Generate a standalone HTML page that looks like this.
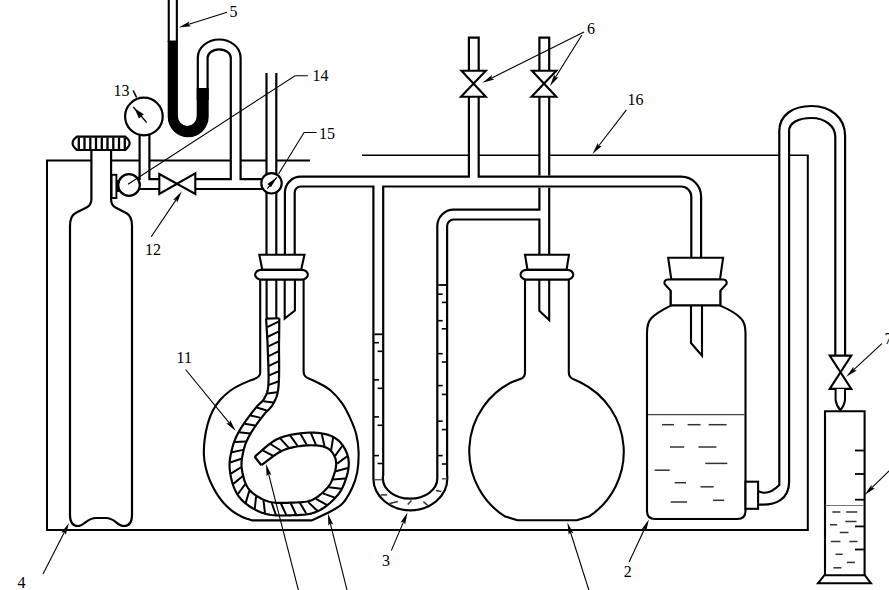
<!DOCTYPE html>
<html><head><meta charset="utf-8"><style>
html,body{margin:0;padding:0;background:#fff;width:889px;height:590px;overflow:hidden}
svg{display:block}
text{font-family:"Liberation Serif",serif;fill:#000;stroke:none}
</style></head><body>
<svg width="889" height="590" viewBox="0 0 889 590">
<g fill="none" stroke="#000" stroke-width="2">
<path d="M310,160.5 H47 V530 H807.8 V155.3" stroke-width="2"/>
<path d="M362,155.3 H808.6" stroke-width="1.6"/>
<path d="M525,280 V372.6 Q525,376.8 521.5,378.6 L511.5,382.2 A77.5,77.5 0 0 0 504.5,516.2 L517.5,520.3 H577 L589.5,516.2 A77.5,77.5 0 0 0 580.2,382.2 L572.3,378.6 Q568.8,376.8 568.8,372.6 V280" fill="#fff" stroke-width="2.1"/>
<path d="M260.2,280 V372.7 Q260.2,377.6 250.8,380.3 C249.12,381.02 244.08,382.90 240.70,384.60 C237.32,386.30 233.90,387.97 230.50,390.50 C227.10,393.03 223.27,396.42 220.30,399.80 C217.33,403.18 214.82,406.70 212.70,410.80 C210.58,414.90 208.95,419.53 207.60,424.40 C206.25,429.27 205.22,434.85 204.60,440.00 C203.98,445.15 203.72,450.72 203.90,455.30 C204.08,459.88 204.77,463.43 205.70,467.50 C206.63,471.57 207.85,475.63 209.50,479.70 C211.15,483.77 213.32,488.10 215.60,491.90 C217.88,495.70 220.28,499.20 223.20,502.50 C226.12,505.80 229.92,509.28 233.10,511.70 C236.28,514.12 239.12,515.55 242.30,517.00 C245.48,518.45 250.55,519.83 252.20,520.40 H311.7 L327.5,513 C329.92,511.52 337.92,508.23 342.00,504.10 C346.08,499.97 349.47,493.48 352.00,488.20 C354.53,482.92 356.10,478.40 357.20,472.40 C358.30,466.40 358.73,458.45 358.60,452.20 C358.47,445.95 357.73,440.42 356.40,434.90 C355.07,429.38 353.00,424.38 350.60,419.10 C348.20,413.82 345.37,408.00 342.00,403.20 C338.63,398.40 334.48,393.75 330.40,390.30 C326.32,386.85 321.33,384.57 317.50,382.50 C313.67,380.43 309.08,378.67 307.40,377.90 Q303.6,376 303.6,371 V280" fill="#fff" stroke-width="2.1"/>
<path d="M670.7,291 V305.6 C664,309 656,313 651.5,318 C647.5,322 647,327 647,333 V511 Q647,519 655,519 H737.3 Q745.5,519 745.5,511 V333 C745.5,327 745,322 740.5,318 C736,313 728,309 720.3,305.6 V291" fill="#fff" stroke-width="2.1"/>
<path d="M91.4,150 V199 C91.4,204 89.5,206 86.5,207.5 L76,212.8 C72,214.8 70,219 70,226 V515 C70,522 73,526 78,526 C84,526 87,518 96,518 H106 C115,518 117,526 124,526 C129,526 132,522 132,515 V226 C132,219 130,215 126.6,213.2 L115.5,207.5 C112.5,206 111.1,204 111.1,199 V150" fill="#fff" stroke-width="2.2"/>
<path d="M77,136.6 H125.3 C127,138 129.6,141 129.6,143.3 C129.6,145.6 127,148.5 125.3,150 H77 C75,148.5 72.6,145.6 72.6,143.3 C72.6,141 75,138 77,136.6 Z" fill="#fff" stroke-width="2.2"/>
<line x1="78.8" y1="137.5" x2="78.8" y2="149.2" stroke="#000" stroke-width="2.3"/>
<line x1="84.5" y1="137.5" x2="84.5" y2="149.2" stroke="#000" stroke-width="2.3"/>
<line x1="90.3" y1="137.5" x2="90.3" y2="149.2" stroke="#000" stroke-width="2.3"/>
<line x1="96.0" y1="137.5" x2="96.0" y2="149.2" stroke="#000" stroke-width="2.3"/>
<line x1="101.8" y1="137.5" x2="101.8" y2="149.2" stroke="#000" stroke-width="2.3"/>
<line x1="107.5" y1="137.5" x2="107.5" y2="149.2" stroke="#000" stroke-width="2.3"/>
<line x1="113.3" y1="137.5" x2="113.3" y2="149.2" stroke="#000" stroke-width="2.3"/>
<line x1="119.0" y1="137.5" x2="119.0" y2="149.2" stroke="#000" stroke-width="2.3"/>
<line x1="124.8" y1="137.5" x2="124.8" y2="149.2" stroke="#000" stroke-width="2.3"/>
<path d="M825,575.2 V411.3 H864.6 V575.2" fill="#fff" stroke-width="2.1"/>
<path d="M824.4,575.2 H864.8 L871,583.3 H818 Z" fill="#fff" stroke-width="2"/>
<line x1="855.0" y1="450.5" x2="864.6" y2="450.5" stroke="#000" stroke-width="1.8"/>
<line x1="855.0" y1="474.0" x2="864.6" y2="474.0" stroke="#000" stroke-width="1.8"/>
<line x1="855.0" y1="499.7" x2="864.6" y2="499.7" stroke="#000" stroke-width="1.8"/>
<line x1="855.0" y1="526.4" x2="864.6" y2="526.4" stroke="#000" stroke-width="1.8"/>
<line x1="855.0" y1="549.5" x2="864.6" y2="549.5" stroke="#000" stroke-width="1.8"/>
<line x1="825.5" y1="505.5" x2="864.0" y2="505.5" stroke="#777" stroke-width="1.2"/>
<line x1="832.4" y1="512.0" x2="840.4" y2="512.0" stroke="#333" stroke-width="1.5"/>
<line x1="846.2" y1="512.0" x2="857.2" y2="512.0" stroke="#333" stroke-width="1.5"/>
<line x1="845.3" y1="521.5" x2="856.5" y2="521.5" stroke="#333" stroke-width="1.5"/>
<line x1="830.0" y1="524.8" x2="837.2" y2="524.8" stroke="#333" stroke-width="1.5"/>
<line x1="839.8" y1="532.5" x2="848.5" y2="532.5" stroke="#333" stroke-width="1.5"/>
<line x1="830.8" y1="541.5" x2="840.4" y2="541.5" stroke="#333" stroke-width="1.5"/>
<line x1="849.4" y1="541.5" x2="857.5" y2="541.5" stroke="#333" stroke-width="1.5"/>
<line x1="835.6" y1="554.3" x2="842.7" y2="554.3" stroke="#333" stroke-width="1.5"/>
<line x1="846.9" y1="562.4" x2="854.9" y2="562.4" stroke="#333" stroke-width="1.5"/>
<line x1="833.4" y1="567.8" x2="841.4" y2="567.8" stroke="#333" stroke-width="1.5"/>
<g stroke="#000" stroke-width="12" fill="none"><path d="M144.5,130 V184.1"/><path d="M129,184.1 H160 M195,184.1 H271.5"/><path d="M235.7,184.1 V57.8 A16.5,13.4 0 0 0 202.7,57.8 V100"/><path d="M271.4,73 V268"/><path d="M289.8,268 V192.6 A11,11 0 0 1 300.8,181.6 H681.2 A15,15 0 0 1 696.2,196.6 V268"/><path d="M473.8,36.5 V181.6"/><path d="M378.3,181.6 V478.5 A32,26 0 0 0 442.2,478.5 V226.1 A11.5,11.5 0 0 1 453.7,214.6 H544.3"/><path d="M544.3,36.5 V175.5"/><path d="M544.3,187.7 V268"/><path d="M752,498.8 H774.2 A10,10 0 0 0 784.2,488.8 V133 A28,22 0 0 1 840.2,133 V356"/></g>
<g stroke="#fff" stroke-width="7.6" fill="none"><path d="M144.5,130 V184.1"/><path d="M129,184.1 H160 M195,184.1 H271.5"/><path d="M235.7,184.1 V57.8 A16.5,13.4 0 0 0 202.7,57.8 V100"/><path d="M271.4,73 V268"/><path d="M289.8,268 V192.6 A11,11 0 0 1 300.8,181.6 H681.2 A15,15 0 0 1 696.2,196.6 V268"/><path d="M473.8,38.7 V181.6"/><path d="M378.3,181.6 V478.5 A32,26 0 0 0 442.2,478.5 V226.1 A11.5,11.5 0 0 1 453.7,214.6 H544.3"/><path d="M544.3,38.7 V175.5"/><path d="M544.3,187.7 V268"/><path d="M752,498.8 H774.2 A10,10 0 0 0 784.2,488.8 V133 A28,22 0 0 1 840.2,133 V356"/></g>
<path d="M777,150 V131 C777,112 792,103.5 811,103.5 C830,103.5 847,113 847,136 V150 Z" fill="#fff" stroke="none"/>
<path d="M779.3,150 V131 C779.3,115 793,106 811.5,106 C830,106 845.1,117 845.1,136 V150" stroke-width="2.2"/>
<path d="M789.1,150 V131 C789.1,123 798,118 811.5,118 C825,118 835.3,126 835.3,137 V150" stroke-width="2.2"/>
<path d="M758.8,468 H791.5 V508 H758.8 Z" fill="#fff" stroke="none"/>
<path d="M758.3,491.3 C764,494 771,493.5 779.3,485 V468" stroke-width="2.2"/>
<path d="M758.3,504.5 C776,506 789.1,499 789.1,482 V468" stroke-width="2.2"/>
<path d="M371.5,476 H449.5 V514 H371.5 Z" fill="#fff" stroke="none"/>
<path d="M373.4,476 V478.5 A36.95,31.8 0 0 0 447.3,478.5 V476" stroke-width="2.2"/>
<path d="M382.9,476 V478.5 A27.2,20.2 0 0 0 437.3,478.5 V476" stroke-width="2.2"/>
<path d="M172.8,-2 V42" stroke="#000" stroke-width="10.2" fill="none"/>
<path d="M172.8,-2 V40.7" stroke="#fff" stroke-width="6" fill="none"/>
<path d="M167.7,40.7 H177.9 V116 A9.4,10 0 0 0 196.7,116 V88 H208.7 V116.6 A20.5,20.7 0 0 1 167.7,116.6 Z" fill="#000" stroke="none"/>
<path d="M284.7,268 V318.6 L294.9,310.5 V268" stroke-width="2.1"/>
<path d="M539.3,268 V310.8 L549.2,320 V268" stroke-width="2.1"/>
<path d="M691,268 V343 L702,355.7 V268" stroke-width="2.1"/>
<path d="M266.6,268 V319 M276.3,268 V319" stroke-width="2.1"/>
<path d="M279.30,318.24 L279.29,319.48 L279.27,320.96 L279.26,322.69 L279.25,324.63 L279.23,326.75 L279.21,329.04 L279.19,331.47 L279.16,334.02 L279.13,336.66 L279.09,339.38 L279.04,342.14 L278.99,344.92 L278.99,347.84 L279.01,351.05 L279.04,354.49 L279.07,358.10 L279.10,361.82 L279.11,365.57 L279.11,369.30 L279.08,372.93 L279.02,376.42 L278.93,379.69 L278.78,382.70 L278.59,385.39 L278.38,387.76 L278.12,389.87 L277.81,391.79 L277.45,393.53 L277.04,395.13 L276.57,396.60 L276.07,397.94 L275.54,399.18 L275.01,400.31 L274.47,401.37 L273.95,402.38 L273.38,403.48 L272.69,404.73 L271.89,405.96 L271.05,407.07 L270.20,408.07 L269.36,408.97 L268.55,409.78 L267.77,410.53 L267.03,411.23 L266.33,411.91 L265.67,412.59 L265.04,413.28 L264.38,414.07 L263.64,415.01 L262.83,416.04 L262.00,417.10 L261.15,418.20 L260.29,419.32 L259.42,420.45 L258.56,421.60 L257.72,422.75 L256.89,423.89 L256.08,425.02 L255.31,426.14 L254.57,427.24 L253.85,428.34 L253.13,429.46 L252.42,430.57 L251.73,431.68 L251.06,432.78 L250.41,433.88 L249.78,434.96 L249.18,436.03 L248.60,437.10 L248.06,438.14 L247.55,439.17 L247.07,440.20 L246.62,441.22 L246.19,442.22 L245.80,443.21 L245.43,444.17 L245.08,445.13 L244.76,446.09 L244.45,447.06 L244.17,448.04 L243.90,449.04 L243.64,450.07 L243.39,451.13 L243.15,452.26 L242.91,453.47 L242.66,454.69 L242.42,455.90 L242.20,457.11 L242.00,458.30 L241.83,459.50 L241.68,460.68 L241.58,461.86 L241.51,463.04 L241.49,464.22 L241.51,465.39 L241.59,466.59 L241.71,467.90 L241.89,469.31 L242.11,470.78 L242.37,472.30 L242.67,473.84 L243.01,475.38 L243.39,476.91 L243.80,478.39 L244.23,479.82 L244.68,481.17 L245.15,482.41 L245.63,483.55 L246.14,484.63 L246.67,485.66 L247.19,486.62 L247.73,487.51 L248.28,488.34 L248.86,489.13 L249.47,489.89 L250.12,490.63 L250.83,491.36 L251.61,492.10 L252.45,492.84 L253.39,493.60 L254.43,494.38 L255.56,495.18 L256.76,495.98 L258.01,496.78 L259.31,497.55 L260.66,498.30 L262.04,499.01 L263.44,499.68 L264.86,500.28 L266.28,500.83 L267.69,501.30 L269.08,501.70 L270.49,502.03 L271.97,502.30 L273.53,502.51 L275.15,502.68 L276.84,502.80 L278.57,502.87 L280.36,502.91 L282.19,502.91 L284.04,502.89 L285.93,502.84 L287.84,502.78 L289.78,502.70 L291.77,502.64 L293.79,502.58 L295.81,502.52 L297.81,502.44 L299.79,502.34 L301.72,502.20 L303.59,502.02 L305.39,501.78 L307.11,501.48 L308.73,501.11 L310.22,500.68 L311.61,500.17 L312.99,499.54 L314.43,498.79 L315.89,497.91 L317.36,496.93 L318.82,495.86 L320.26,494.72 L321.66,493.53 L323.02,492.30 L324.31,491.06 L325.53,489.81 L326.67,488.59 L327.68,487.44 L328.54,486.38 L329.29,485.32 L329.99,484.22 L330.64,483.09 L331.24,481.93 L331.79,480.73 L332.30,479.51 L332.79,478.26 L333.24,477.00 L333.67,475.72 L334.08,474.43 L334.47,473.17 L334.83,471.97 L335.14,470.82 L335.41,469.70 L335.64,468.60 L335.84,467.53 L335.99,466.49 L336.09,465.49 L336.16,464.52 L336.18,463.59 L336.16,462.69 L336.09,461.83 L335.98,461.01 L335.82,460.18 L335.61,459.33 L335.34,458.44 L335.01,457.53 L334.64,456.62 L334.23,455.72 L333.78,454.84 L333.30,453.99 L332.80,453.19 L332.29,452.44 L331.77,451.77 L331.28,451.17 L330.78,450.64 L330.27,450.15 L329.74,449.69 L329.19,449.27 L328.60,448.87 L327.98,448.49 L327.31,448.13 L326.60,447.78 L325.84,447.45 L325.02,447.13 L324.15,446.83 L323.25,446.55 L322.33,446.30 L321.36,446.08 L320.32,445.89 L319.22,445.72 L318.07,445.58 L316.86,445.47 L315.62,445.38 L314.34,445.31 L313.03,445.28 L311.69,445.26 L310.34,445.27 L308.99,445.30 L307.62,445.35 L306.19,445.44 L304.71,445.55 L303.19,445.69 L301.64,445.86 L300.09,446.06 L298.55,446.27 L297.03,446.51 L295.55,446.77 L294.12,447.04 L292.76,447.33 L291.46,447.63 L290.21,447.94 L289.04,448.24 L287.97,448.53 L286.97,448.82 L286.04,449.12 L285.16,449.43 L284.28,449.78 L283.39,450.16 L282.47,450.60 L281.49,451.11 L280.41,451.66 L279.27,452.27 L278.01,453.01 L276.57,453.93 L274.96,455.02 L273.26,456.22 L271.50,457.50 L269.74,458.81 L268.01,460.11 L266.37,461.36 L264.84,462.53 L263.46,463.59 L262.28,464.49 L261.37,465.22 L254.63,456.78 L255.49,456.10 L256.54,455.17 L257.82,454.04 L259.26,452.75 L260.84,451.35 L262.51,449.88 L264.24,448.38 L266.00,446.89 L267.76,445.44 L269.48,444.07 L271.15,442.82 L272.73,441.73 L274.17,440.81 L275.53,440.01 L276.87,439.32 L278.18,438.69 L279.47,438.13 L280.74,437.63 L282.01,437.18 L283.28,436.77 L284.55,436.40 L285.83,436.05 L287.14,435.72 L288.54,435.37 L290.05,435.02 L291.65,434.69 L293.30,434.37 L294.98,434.08 L296.70,433.81 L298.43,433.57 L300.17,433.35 L301.91,433.16 L303.63,433.00 L305.33,432.87 L307.00,432.77 L308.61,432.70 L310.17,432.67 L311.73,432.66 L313.28,432.68 L314.83,432.72 L316.38,432.80 L317.91,432.91 L319.43,433.06 L320.94,433.24 L322.43,433.47 L323.90,433.74 L325.35,434.07 L326.75,434.45 L328.08,434.86 L329.36,435.30 L330.62,435.79 L331.86,436.33 L333.08,436.92 L334.27,437.57 L335.44,438.29 L336.58,439.06 L337.68,439.91 L338.74,440.82 L339.76,441.79 L340.72,442.83 L341.64,443.93 L342.52,445.09 L343.35,446.30 L344.13,447.56 L344.87,448.87 L345.56,450.22 L346.20,451.60 L346.78,453.02 L347.30,454.48 L347.75,455.96 L348.13,457.47 L348.42,458.99 L348.62,460.52 L348.74,462.04 L348.78,463.56 L348.75,465.07 L348.65,466.57 L348.49,468.07 L348.27,469.55 L348.01,471.03 L347.70,472.50 L347.34,473.96 L346.95,475.41 L346.53,476.83 L346.10,478.22 L345.64,479.65 L345.14,481.13 L344.59,482.66 L343.99,484.23 L343.31,485.83 L342.56,487.45 L341.72,489.09 L340.78,490.74 L339.73,492.38 L338.57,494.00 L337.32,495.56 L336.01,497.04 L334.64,498.52 L333.17,500.02 L331.61,501.51 L329.97,503.00 L328.24,504.47 L326.44,505.89 L324.57,507.26 L322.63,508.55 L320.62,509.76 L318.54,510.86 L316.39,511.83 L314.15,512.65 L311.88,513.31 L309.59,513.83 L307.31,514.23 L305.04,514.54 L302.78,514.76 L300.56,514.92 L298.37,515.03 L296.24,515.11 L294.16,515.17 L292.16,515.23 L290.22,515.30 L288.28,515.37 L286.29,515.43 L284.28,515.48 L282.26,515.51 L280.22,515.51 L278.18,515.47 L276.12,515.38 L274.07,515.23 L272.02,515.02 L269.97,514.74 L267.94,514.37 L265.92,513.90 L263.95,513.33 L262.01,512.68 L260.11,511.96 L258.26,511.16 L256.46,510.31 L254.71,509.41 L253.02,508.47 L251.40,507.50 L249.84,506.50 L248.35,505.48 L246.94,504.44 L245.61,503.40 L244.33,502.34 L243.13,501.26 L241.98,500.14 L240.91,498.99 L239.89,497.80 L238.94,496.58 L238.05,495.32 L237.22,494.03 L236.44,492.70 L235.71,491.33 L235.03,489.93 L234.37,488.45 L233.72,486.86 L233.11,485.18 L232.56,483.45 L232.05,481.68 L231.58,479.88 L231.16,478.06 L230.79,476.23 L230.45,474.41 L230.17,472.60 L229.93,470.83 L229.75,469.10 L229.61,467.41 L229.55,465.72 L229.56,464.04 L229.63,462.41 L229.76,460.82 L229.94,459.28 L230.16,457.78 L230.41,456.33 L230.68,454.92 L230.97,453.56 L231.26,452.25 L231.55,450.98 L231.85,449.74 L232.15,448.47 L232.48,447.22 L232.82,445.99 L233.18,444.78 L233.56,443.58 L233.97,442.41 L234.39,441.24 L234.85,440.08 L235.33,438.92 L235.83,437.76 L236.36,436.59 L236.93,435.40 L237.53,434.19 L238.18,432.97 L238.84,431.76 L239.54,430.55 L240.25,429.35 L240.98,428.16 L241.73,426.98 L242.49,425.80 L243.26,424.63 L244.04,423.47 L244.83,422.32 L245.63,421.16 L246.45,419.98 L247.31,418.78 L248.20,417.57 L249.10,416.36 L250.01,415.15 L250.93,413.96 L251.84,412.78 L252.75,411.63 L253.65,410.51 L254.52,409.42 L255.37,408.38 L256.22,407.33 L257.12,406.28 L258.05,405.29 L258.93,404.40 L259.77,403.60 L260.54,402.89 L261.24,402.23 L261.87,401.63 L262.42,401.05 L262.91,400.49 L263.36,399.92 L263.77,399.31 L264.22,398.52 L264.73,397.55 L265.25,396.58 L265.71,395.70 L266.12,394.87 L266.48,394.05 L266.81,393.19 L267.13,392.24 L267.43,391.15 L267.71,389.88 L267.97,388.38 L268.20,386.63 L268.41,384.61 L268.53,382.22 L268.58,379.44 L268.58,376.33 L268.54,372.96 L268.46,369.41 L268.35,365.75 L268.22,362.04 L268.09,358.35 L267.95,354.75 L267.82,351.29 L267.70,348.04 L267.61,345.08 L267.49,342.32 L267.35,339.59 L267.20,336.91 L267.05,334.29 L266.91,331.77 L266.76,329.36 L266.62,327.09 L266.49,324.97 L266.37,323.04 L266.27,321.31 L266.18,319.81 L266.10,318.56 Z" fill="#fff" stroke="none"/>
<path d="M279.30,318.24 L279.29,319.48 L279.27,320.96 L279.26,322.69 L279.25,324.63 L279.23,326.75 L279.21,329.04 L279.19,331.47 L279.16,334.02 L279.13,336.66 L279.09,339.38 L279.04,342.14 L278.99,344.92 L278.99,347.84 L279.01,351.05 L279.04,354.49 L279.07,358.10 L279.10,361.82 L279.11,365.57 L279.11,369.30 L279.08,372.93 L279.02,376.42 L278.93,379.69 L278.78,382.70 L278.59,385.39 L278.38,387.76 L278.12,389.87 L277.81,391.79 L277.45,393.53 L277.04,395.13 L276.57,396.60 L276.07,397.94 L275.54,399.18 L275.01,400.31 L274.47,401.37 L273.95,402.38 L273.38,403.48 L272.69,404.73 L271.89,405.96 L271.05,407.07 L270.20,408.07 L269.36,408.97 L268.55,409.78 L267.77,410.53 L267.03,411.23 L266.33,411.91 L265.67,412.59 L265.04,413.28 L264.38,414.07 L263.64,415.01 L262.83,416.04 L262.00,417.10 L261.15,418.20 L260.29,419.32 L259.42,420.45 L258.56,421.60 L257.72,422.75 L256.89,423.89 L256.08,425.02 L255.31,426.14 L254.57,427.24 L253.85,428.34 L253.13,429.46 L252.42,430.57 L251.73,431.68 L251.06,432.78 L250.41,433.88 L249.78,434.96 L249.18,436.03 L248.60,437.10 L248.06,438.14 L247.55,439.17 L247.07,440.20 L246.62,441.22 L246.19,442.22 L245.80,443.21 L245.43,444.17 L245.08,445.13 L244.76,446.09 L244.45,447.06 L244.17,448.04 L243.90,449.04 L243.64,450.07 L243.39,451.13 L243.15,452.26 L242.91,453.47 L242.66,454.69 L242.42,455.90 L242.20,457.11 L242.00,458.30 L241.83,459.50 L241.68,460.68 L241.58,461.86 L241.51,463.04 L241.49,464.22 L241.51,465.39 L241.59,466.59 L241.71,467.90 L241.89,469.31 L242.11,470.78 L242.37,472.30 L242.67,473.84 L243.01,475.38 L243.39,476.91 L243.80,478.39 L244.23,479.82 L244.68,481.17 L245.15,482.41 L245.63,483.55 L246.14,484.63 L246.67,485.66 L247.19,486.62 L247.73,487.51 L248.28,488.34 L248.86,489.13 L249.47,489.89 L250.12,490.63 L250.83,491.36 L251.61,492.10 L252.45,492.84 L253.39,493.60 L254.43,494.38 L255.56,495.18 L256.76,495.98 L258.01,496.78 L259.31,497.55 L260.66,498.30 L262.04,499.01 L263.44,499.68 L264.86,500.28 L266.28,500.83 L267.69,501.30 L269.08,501.70 L270.49,502.03 L271.97,502.30 L273.53,502.51 L275.15,502.68 L276.84,502.80 L278.57,502.87 L280.36,502.91 L282.19,502.91 L284.04,502.89 L285.93,502.84 L287.84,502.78 L289.78,502.70 L291.77,502.64 L293.79,502.58 L295.81,502.52 L297.81,502.44 L299.79,502.34 L301.72,502.20 L303.59,502.02 L305.39,501.78 L307.11,501.48 L308.73,501.11 L310.22,500.68 L311.61,500.17 L312.99,499.54 L314.43,498.79 L315.89,497.91 L317.36,496.93 L318.82,495.86 L320.26,494.72 L321.66,493.53 L323.02,492.30 L324.31,491.06 L325.53,489.81 L326.67,488.59 L327.68,487.44 L328.54,486.38 L329.29,485.32 L329.99,484.22 L330.64,483.09 L331.24,481.93 L331.79,480.73 L332.30,479.51 L332.79,478.26 L333.24,477.00 L333.67,475.72 L334.08,474.43 L334.47,473.17 L334.83,471.97 L335.14,470.82 L335.41,469.70 L335.64,468.60 L335.84,467.53 L335.99,466.49 L336.09,465.49 L336.16,464.52 L336.18,463.59 L336.16,462.69 L336.09,461.83 L335.98,461.01 L335.82,460.18 L335.61,459.33 L335.34,458.44 L335.01,457.53 L334.64,456.62 L334.23,455.72 L333.78,454.84 L333.30,453.99 L332.80,453.19 L332.29,452.44 L331.77,451.77 L331.28,451.17 L330.78,450.64 L330.27,450.15 L329.74,449.69 L329.19,449.27 L328.60,448.87 L327.98,448.49 L327.31,448.13 L326.60,447.78 L325.84,447.45 L325.02,447.13 L324.15,446.83 L323.25,446.55 L322.33,446.30 L321.36,446.08 L320.32,445.89 L319.22,445.72 L318.07,445.58 L316.86,445.47 L315.62,445.38 L314.34,445.31 L313.03,445.28 L311.69,445.26 L310.34,445.27 L308.99,445.30 L307.62,445.35 L306.19,445.44 L304.71,445.55 L303.19,445.69 L301.64,445.86 L300.09,446.06 L298.55,446.27 L297.03,446.51 L295.55,446.77 L294.12,447.04 L292.76,447.33 L291.46,447.63 L290.21,447.94 L289.04,448.24 L287.97,448.53 L286.97,448.82 L286.04,449.12 L285.16,449.43 L284.28,449.78 L283.39,450.16 L282.47,450.60 L281.49,451.11 L280.41,451.66 L279.27,452.27 L278.01,453.01 L276.57,453.93 L274.96,455.02 L273.26,456.22 L271.50,457.50 L269.74,458.81 L268.01,460.11 L266.37,461.36 L264.84,462.53 L263.46,463.59 L262.28,464.49 L261.37,465.22" stroke-width="2.2" stroke-linejoin="round"/>
<path d="M266.10,318.56 L266.18,319.81 L266.27,321.31 L266.37,323.04 L266.49,324.97 L266.62,327.09 L266.76,329.36 L266.91,331.77 L267.05,334.29 L267.20,336.91 L267.35,339.59 L267.49,342.32 L267.61,345.08 L267.70,348.04 L267.82,351.29 L267.95,354.75 L268.09,358.35 L268.22,362.04 L268.35,365.75 L268.46,369.41 L268.54,372.96 L268.58,376.33 L268.58,379.44 L268.53,382.22 L268.41,384.61 L268.20,386.63 L267.97,388.38 L267.71,389.88 L267.43,391.15 L267.13,392.24 L266.81,393.19 L266.48,394.05 L266.12,394.87 L265.71,395.70 L265.25,396.58 L264.73,397.55 L264.22,398.52 L263.77,399.31 L263.36,399.92 L262.91,400.49 L262.42,401.05 L261.87,401.63 L261.24,402.23 L260.54,402.89 L259.77,403.60 L258.93,404.40 L258.05,405.29 L257.12,406.28 L256.22,407.33 L255.37,408.38 L254.52,409.42 L253.65,410.51 L252.75,411.63 L251.84,412.78 L250.93,413.96 L250.01,415.15 L249.10,416.36 L248.20,417.57 L247.31,418.78 L246.45,419.98 L245.63,421.16 L244.83,422.32 L244.04,423.47 L243.26,424.63 L242.49,425.80 L241.73,426.98 L240.98,428.16 L240.25,429.35 L239.54,430.55 L238.84,431.76 L238.18,432.97 L237.53,434.19 L236.93,435.40 L236.36,436.59 L235.83,437.76 L235.33,438.92 L234.85,440.08 L234.39,441.24 L233.97,442.41 L233.56,443.58 L233.18,444.78 L232.82,445.99 L232.48,447.22 L232.15,448.47 L231.85,449.74 L231.55,450.98 L231.26,452.25 L230.97,453.56 L230.68,454.92 L230.41,456.33 L230.16,457.78 L229.94,459.28 L229.76,460.82 L229.63,462.41 L229.56,464.04 L229.55,465.72 L229.61,467.41 L229.75,469.10 L229.93,470.83 L230.17,472.60 L230.45,474.41 L230.79,476.23 L231.16,478.06 L231.58,479.88 L232.05,481.68 L232.56,483.45 L233.11,485.18 L233.72,486.86 L234.37,488.45 L235.03,489.93 L235.71,491.33 L236.44,492.70 L237.22,494.03 L238.05,495.32 L238.94,496.58 L239.89,497.80 L240.91,498.99 L241.98,500.14 L243.13,501.26 L244.33,502.34 L245.61,503.40 L246.94,504.44 L248.35,505.48 L249.84,506.50 L251.40,507.50 L253.02,508.47 L254.71,509.41 L256.46,510.31 L258.26,511.16 L260.11,511.96 L262.01,512.68 L263.95,513.33 L265.92,513.90 L267.94,514.37 L269.97,514.74 L272.02,515.02 L274.07,515.23 L276.12,515.38 L278.18,515.47 L280.22,515.51 L282.26,515.51 L284.28,515.48 L286.29,515.43 L288.28,515.37 L290.22,515.30 L292.16,515.23 L294.16,515.17 L296.24,515.11 L298.37,515.03 L300.56,514.92 L302.78,514.76 L305.04,514.54 L307.31,514.23 L309.59,513.83 L311.88,513.31 L314.15,512.65 L316.39,511.83 L318.54,510.86 L320.62,509.76 L322.63,508.55 L324.57,507.26 L326.44,505.89 L328.24,504.47 L329.97,503.00 L331.61,501.51 L333.17,500.02 L334.64,498.52 L336.01,497.04 L337.32,495.56 L338.57,494.00 L339.73,492.38 L340.78,490.74 L341.72,489.09 L342.56,487.45 L343.31,485.83 L343.99,484.23 L344.59,482.66 L345.14,481.13 L345.64,479.65 L346.10,478.22 L346.53,476.83 L346.95,475.41 L347.34,473.96 L347.70,472.50 L348.01,471.03 L348.27,469.55 L348.49,468.07 L348.65,466.57 L348.75,465.07 L348.78,463.56 L348.74,462.04 L348.62,460.52 L348.42,458.99 L348.13,457.47 L347.75,455.96 L347.30,454.48 L346.78,453.02 L346.20,451.60 L345.56,450.22 L344.87,448.87 L344.13,447.56 L343.35,446.30 L342.52,445.09 L341.64,443.93 L340.72,442.83 L339.76,441.79 L338.74,440.82 L337.68,439.91 L336.58,439.06 L335.44,438.29 L334.27,437.57 L333.08,436.92 L331.86,436.33 L330.62,435.79 L329.36,435.30 L328.08,434.86 L326.75,434.45 L325.35,434.07 L323.90,433.74 L322.43,433.47 L320.94,433.24 L319.43,433.06 L317.91,432.91 L316.38,432.80 L314.83,432.72 L313.28,432.68 L311.73,432.66 L310.17,432.67 L308.61,432.70 L307.00,432.77 L305.33,432.87 L303.63,433.00 L301.91,433.16 L300.17,433.35 L298.43,433.57 L296.70,433.81 L294.98,434.08 L293.30,434.37 L291.65,434.69 L290.05,435.02 L288.54,435.37 L287.14,435.72 L285.83,436.05 L284.55,436.40 L283.28,436.77 L282.01,437.18 L280.74,437.63 L279.47,438.13 L278.18,438.69 L276.87,439.32 L275.53,440.01 L274.17,440.81 L272.73,441.73 L271.15,442.82 L269.48,444.07 L267.76,445.44 L266.00,446.89 L264.24,448.38 L262.51,449.88 L260.84,451.35 L259.26,452.75 L257.82,454.04 L256.54,455.17 L255.49,456.10 L254.63,456.78" stroke-width="2.2" stroke-linejoin="round"/>
<path d="M279.30,318.24 L266.10,318.56" stroke-width="2.2"/>
<path d="M261.37,465.22 L254.63,456.78" stroke-width="2.2"/>
<path d="M267.14,327.13L278.58,321.66M267.71,336.73L278.51,331.66M268.21,346.35L278.37,341.64M268.57,356.11L278.38,351.47M268.92,365.81L278.47,361.37M269.13,375.43L278.49,371.35M268.95,384.84L278.27,381.53M267.35,393.55L277.24,392.21M263.33,401.17L273.36,402.45M256.88,407.50L266.66,410.57M250.55,415.45L260.65,417.85M244.66,423.69L255.04,425.47M239.23,432.33L249.99,433.39M234.78,441.93L245.86,441.39M231.93,452.18L243.06,449.88M230.23,462.56L241.25,458.77M230.96,473.65L240.96,467.23M233.28,483.87L242.56,476.19M237.90,494.02L245.15,484.22M245.76,502.74L249.27,490.89M254.78,508.78L256.08,496.36M264.99,512.99L263.52,500.60M275.84,514.77L271.77,502.98M286.24,514.84L280.95,503.54M296.09,514.52L290.69,503.27M306.35,513.76L300.00,503.02M317.26,510.77L308.25,502.14M326.82,504.81L315.88,498.81M334.68,497.58L322.93,493.37M341.27,488.74L328.88,487.20M345.40,478.57L332.96,479.62M347.88,468.08L335.82,471.27M347.21,456.22L337.17,463.64M342.34,445.72L335.13,455.91M333.12,437.51L331.19,449.84M321.78,433.93L324.45,446.12M310.97,433.23L315.81,444.73M300.50,433.91L306.70,444.74M290.29,435.58L297.50,445.76M280.16,438.44L288.62,447.62M270.40,444.02L280.77,450.51M262.61,450.48L272.79,455.67" stroke="#000" stroke-width="2"/>
<path d="M259.3,254.7 H304.5 L301.1,269.9 H262.3 Z" fill="#fff" stroke-width="2.1"/>
<path d="M261.1,269.9 H301.9 C305.4,269.9 307.9,272.2 307.9,274.8 C307.9,277.2 304.9,279.6 301.9,279.6 H261.1 C258.1,279.6 255.1,277.2 255.1,274.8 C255.1,272.2 257.6,269.9 261.1,269.9 Z" fill="#fff" stroke-width="2.1"/>
<path d="M525,254.7 H569 L566.5,269.9 H527.5 Z" fill="#fff" stroke-width="2.1"/>
<path d="M526.5,269.9 H567.3 C570.8,269.9 573.3,272.2 573.3,274.8 C573.3,277.2 570.3,279.6 567.3,279.6 H526.5 C523.5,279.6 520.5,277.2 520.5,274.8 C520.5,272.2 523.0,269.9 526.5,269.9 Z" fill="#fff" stroke-width="2.1"/>
<path d="M668.2,257.8 H723.1 L720,279.5 H671.3 Z" fill="#fff" stroke-width="2.1"/>
<path d="M668,279.5 H723 Q727.6,279.8 726.5,284 L720.3,290.8 V305.4 H670.8 V290.8 L664.6,284 Q663.6,279.8 668,279.5 Z" fill="#fff" stroke-width="2.1"/>
<line x1="648.0" y1="414.6" x2="744.5" y2="414.6" stroke="#444" stroke-width="1.2"/>
<line x1="662.0" y1="424.7" x2="674.0" y2="424.7" stroke="#333" stroke-width="1.5"/>
<line x1="687.6" y1="424.7" x2="700.5" y2="424.7" stroke="#333" stroke-width="1.5"/>
<line x1="708.6" y1="424.7" x2="726.6" y2="424.7" stroke="#333" stroke-width="1.5"/>
<line x1="670.0" y1="447.0" x2="684.2" y2="447.0" stroke="#333" stroke-width="1.5"/>
<line x1="698.5" y1="447.0" x2="716.4" y2="447.0" stroke="#333" stroke-width="1.5"/>
<line x1="705.3" y1="463.4" x2="727.3" y2="463.4" stroke="#333" stroke-width="1.5"/>
<line x1="654.7" y1="470.2" x2="669.7" y2="470.2" stroke="#333" stroke-width="1.5"/>
<line x1="674.7" y1="482.7" x2="686.0" y2="482.7" stroke="#333" stroke-width="1.5"/>
<line x1="700.5" y1="486.8" x2="713.7" y2="486.8" stroke="#333" stroke-width="1.5"/>
<line x1="670.7" y1="502.0" x2="687.0" y2="502.0" stroke="#333" stroke-width="1.5"/>
<line x1="713.0" y1="500.3" x2="724.2" y2="500.3" stroke="#333" stroke-width="1.5"/>
<rect x="745.5" y="481.7" width="12.6" height="27.1" fill="#fff" stroke-width="2.1"/>
<line x1="374.5" y1="334.3" x2="382.0" y2="334.3" stroke="#000" stroke-width="1.8"/>
<line x1="438.3" y1="285.0" x2="446.5" y2="285.0" stroke="#000" stroke-width="1.8"/>
<line x1="374.0" y1="342.7" x2="379.0" y2="342.7" stroke="#000" stroke-width="1.6"/>
<line x1="374.0" y1="379.9" x2="379.0" y2="379.9" stroke="#000" stroke-width="1.6"/>
<line x1="374.0" y1="416.9" x2="379.0" y2="416.9" stroke="#000" stroke-width="1.6"/>
<line x1="374.0" y1="455.6" x2="379.0" y2="455.6" stroke="#000" stroke-width="1.6"/>
<line x1="377.6" y1="351.3" x2="382.6" y2="351.3" stroke="#000" stroke-width="1.6"/>
<line x1="377.6" y1="388.3" x2="382.6" y2="388.3" stroke="#000" stroke-width="1.6"/>
<line x1="377.6" y1="425.3" x2="382.6" y2="425.3" stroke="#000" stroke-width="1.6"/>
<line x1="377.6" y1="463.5" x2="382.6" y2="463.5" stroke="#000" stroke-width="1.6"/>
<line x1="374.0" y1="479.7" x2="382.0" y2="479.7" stroke="#555" stroke-width="1.5"/>
<line x1="437.7" y1="294.2" x2="442.7" y2="294.2" stroke="#000" stroke-width="1.6"/>
<line x1="437.7" y1="320.7" x2="442.7" y2="320.7" stroke="#000" stroke-width="1.6"/>
<line x1="437.7" y1="353.7" x2="442.7" y2="353.7" stroke="#000" stroke-width="1.6"/>
<line x1="437.7" y1="385.6" x2="442.7" y2="385.6" stroke="#000" stroke-width="1.6"/>
<line x1="437.7" y1="421.2" x2="442.7" y2="421.2" stroke="#000" stroke-width="1.6"/>
<line x1="437.7" y1="455.6" x2="442.7" y2="455.6" stroke="#000" stroke-width="1.6"/>
<line x1="441.8" y1="302.4" x2="446.8" y2="302.4" stroke="#000" stroke-width="1.6"/>
<line x1="441.8" y1="328.8" x2="446.8" y2="328.8" stroke="#000" stroke-width="1.6"/>
<line x1="441.8" y1="362.0" x2="446.8" y2="362.0" stroke="#000" stroke-width="1.6"/>
<line x1="441.8" y1="394.4" x2="446.8" y2="394.4" stroke="#000" stroke-width="1.6"/>
<line x1="441.8" y1="429.6" x2="446.8" y2="429.6" stroke="#000" stroke-width="1.6"/>
<line x1="441.8" y1="464.0" x2="446.8" y2="464.0" stroke="#000" stroke-width="1.6"/>
<line x1="441.8" y1="478.8" x2="446.8" y2="478.8" stroke="#555" stroke-width="1.5"/>
<line x1="380.7" y1="494.9" x2="387.2" y2="494.9" stroke="#333" stroke-width="1.5"/>
<line x1="389.6" y1="503.4" x2="397.9" y2="501.6" stroke="#333" stroke-width="1.5"/>
<line x1="407.7" y1="504.6" x2="411.5" y2="500.4" stroke="#333" stroke-width="1.5"/>
<line x1="423.4" y1="501.6" x2="427.6" y2="505.2" stroke="#333" stroke-width="1.5"/>
<line x1="435.9" y1="490.4" x2="441.2" y2="491.5" stroke="#333" stroke-width="1.5"/>
<circle cx="143.9" cy="116.5" r="18.8" fill="#fff" stroke-width="2.2"/>
<line x1="133.3" y1="107.0" x2="146.7" y2="122.5" stroke="#000" stroke-width="1.2"/>
<polygon points="134.6,108.6 139,118.4 143.8,114.3" fill="#000" stroke="none"/>
<line x1="133.1" y1="90.4" x2="136.6" y2="97.5" stroke="#000" stroke-width="1.6"/>
<rect x="111.6" y="174.8" width="4.8" height="23.2" fill="#fff" stroke-width="1.9"/>
<rect x="116" y="180" width="3" height="12" fill="#000" stroke="none"/>
<circle cx="129" cy="185" r="10.8" fill="#fff" stroke-width="2.2"/>
<rect x="159.3" y="174" width="36" height="20" fill="#fff" stroke="none"/>
<path d="M159.3,174 L195.3,194 V173.3 L159.3,194 Z" fill="#fff" stroke-width="2.1"/>
<circle cx="271.5" cy="183.3" r="10.2" fill="#fff" stroke-width="2.2"/>
<line x1="267.3" y1="188.6" x2="276.8" y2="177.4" stroke="#000" stroke-width="1.2"/>
<polygon points="277,177.2 267.4,184 270.9,187.3" fill="#000" stroke="none"/>
<rect x="461.8" y="70.7" width="24" height="26" fill="#fff" stroke="none"/>
<path d="M461.5,70.7 H485.8L461.0,96.7 H485.8 Z" fill="#fff" stroke-width="2.1"/>
<rect x="532.3" y="70.7" width="24" height="26" fill="#fff" stroke="none"/>
<path d="M532.0,70.7 H556.3L531.5,96.7 H556.3 Z" fill="#fff" stroke-width="2.1"/>
<rect x="829.7" y="355.6" width="21.6" height="33.3" fill="#fff" stroke="none"/>
<path d="M829.7,355.6 H851.3 L829.7,388.9 H851.3 Z" fill="#fff" stroke-width="2.1"/>
<path d="M835.6,389 V400 Q836.5,406 840.3,410 Q844.2,406 845,400 V389" fill="#fff" stroke-width="2"/>
<text x="229.5" y="17.4" font-size="16" stroke="#000" stroke-width="0.25">5</text>
<text x="113.5" y="95.9" font-size="16" stroke="#000" stroke-width="0.25">13</text>
<text x="312.5" y="80.7" font-size="16" stroke="#000" stroke-width="0.25">14</text>
<text x="319" y="138.6" font-size="16" stroke="#000" stroke-width="0.25">15</text>
<text x="145" y="254.9" font-size="16" stroke="#000" stroke-width="0.25">12</text>
<text x="176.5" y="362.7" font-size="16" stroke="#000" stroke-width="0.25">11</text>
<text x="587" y="34.1" font-size="16" stroke="#000" stroke-width="0.25">6</text>
<text x="627.5" y="105.2" font-size="16" stroke="#000" stroke-width="0.25">16</text>
<text x="884.5" y="344.2" font-size="16" stroke="#000" stroke-width="0.25">7</text>
<text x="17.5" y="587.6" font-size="16" stroke="#000" stroke-width="0.25">4</text>
<text x="382" y="566.2" font-size="16" stroke="#000" stroke-width="0.25">3</text>
<text x="623.7" y="577.1" font-size="16" stroke="#000" stroke-width="0.25">2</text>
<line x1="227.0" y1="12.2" x2="188.2" y2="24.5" stroke="#000" stroke-width="1.1"/>
<polygon points="178.7,27.5 189.4,21.5 188.2,24.5 190.9,26.3" fill="#000" stroke="none"/>
<polyline points="128,184.3 295,75.8 307.8,75.8" stroke-width="1.1"/>
<polyline points="278.5,174 304.1,132.5 316.6,132.5" stroke-width="1.1"/>
<line x1="151.2" y1="236.7" x2="176.2" y2="199.6" stroke="#000" stroke-width="1.1"/>
<polygon points="181.8,191.3 177.2,202.6 176.2,199.6 173.0,199.9" fill="#000" stroke="none"/>
<line x1="185.6" y1="369.5" x2="229.4" y2="423.2" stroke="#000" stroke-width="1.1"/>
<polygon points="235.7,431.0 226.2,423.3 229.4,423.2 230.1,420.1" fill="#000" stroke="none"/>
<line x1="584.0" y1="31.9" x2="491.3" y2="78.2" stroke="#000" stroke-width="1.1"/>
<polygon points="482.4,82.7 492.0,75.1 491.3,78.2 494.3,79.6" fill="#000" stroke="none"/>
<line x1="581.7" y1="35.3" x2="555.3" y2="77.5" stroke="#000" stroke-width="1.1"/>
<polygon points="550.0,86.0 554.2,74.5 555.3,77.5 558.5,77.2" fill="#000" stroke="none"/>
<line x1="626.4" y1="109.8" x2="598.6" y2="146.0" stroke="#000" stroke-width="1.1"/>
<polygon points="592.5,153.9 597.8,142.9 598.6,146.0 601.8,145.9" fill="#000" stroke="none"/>
<line x1="881.9" y1="343.6" x2="853.6" y2="369.9" stroke="#000" stroke-width="1.1"/>
<polygon points="846.3,376.7 853.4,366.7 853.6,369.9 856.8,370.4" fill="#000" stroke="none"/>
<line x1="892.0" y1="468.0" x2="871.7" y2="487.9" stroke="#000" stroke-width="1.1"/>
<polygon points="864.6,494.9 871.4,484.7 871.7,487.9 874.9,488.3" fill="#000" stroke="none"/>
<line x1="43.0" y1="574.0" x2="64.5" y2="531.9" stroke="#000" stroke-width="1.1"/>
<polygon points="69.0,523.0 65.8,534.8 64.5,531.9 61.3,532.6" fill="#000" stroke="none"/>
<line x1="391.3" y1="550.6" x2="403.6" y2="521.6" stroke="#000" stroke-width="1.1"/>
<polygon points="407.5,512.4 405.1,524.4 403.6,521.6 400.5,522.5" fill="#000" stroke="none"/>
<line x1="629.1" y1="562.1" x2="644.7" y2="528.5" stroke="#000" stroke-width="1.1"/>
<polygon points="648.9,519.4 646.1,531.3 644.7,528.5 641.6,529.2" fill="#000" stroke="none"/>
<line x1="589.5" y1="592.0" x2="570.4" y2="532.0" stroke="#000" stroke-width="1.1"/>
<polygon points="567.4,522.5 573.4,533.2 570.4,532.0 568.7,534.7" fill="#000" stroke="none"/>
<line x1="298.9" y1="592.0" x2="268.5" y2="473.7" stroke="#000" stroke-width="1.1"/>
<polygon points="266.0,464.0 271.4,475.0 268.5,473.7 266.6,476.2" fill="#000" stroke="none"/>
<line x1="347.5" y1="592.0" x2="330.3" y2="523.3" stroke="#000" stroke-width="1.1"/>
<polygon points="327.9,513.6 333.2,524.6 330.3,523.3 328.4,525.8" fill="#000" stroke="none"/>
</g></svg></body></html>
